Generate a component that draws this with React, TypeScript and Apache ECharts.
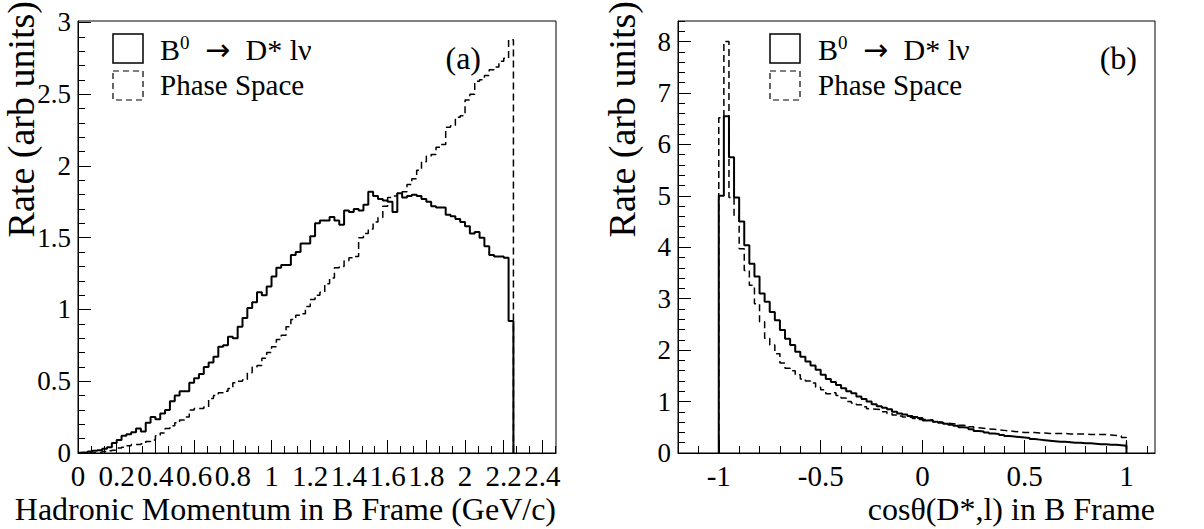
import React, { useEffect, useRef } from "react";
import * as echarts from "echarts";

const FONT = "Liberation Serif, serif";

// ---- Panel (a): hadronic momentum, bins of 0.025 GeV/c starting at 0 ----
const momStart = 0;
const momBinWidth = 0.025;
const momSignal = [
  0.003, 0.005, 0.01, 0.015, 0.02, 0.03, 0.04, 0.07, 0.09, 0.12,
  0.13, 0.145, 0.17, 0.15, 0.21, 0.25, 0.235, 0.275, 0.3, 0.36,
  0.4, 0.43, 0.43, 0.49, 0.52, 0.55, 0.6, 0.63, 0.67, 0.74,
  0.75, 0.81, 0.8, 0.88, 0.94, 1.01, 1.05, 1.12, 1.1, 1.16,
  1.23, 1.29, 1.31, 1.31, 1.38, 1.4, 1.46, 1.46, 1.51, 1.6,
  1.62, 1.62, 1.645, 1.62, 1.59, 1.69, 1.68, 1.7, 1.69, 1.73,
  1.82, 1.79, 1.77, 1.76, 1.75, 1.68, 1.81, 1.78, 1.79, 1.8,
  1.79, 1.77, 1.75, 1.72, 1.71, 1.71, 1.66, 1.65, 1.63, 1.61,
  1.58, 1.53, 1.54, 1.5, 1.44, 1.38, 1.37, 1.37, 1.36, 0.92,
];
const momPhase = [
  0, 0, 0, 0.003, 0.005, 0.01, 0.015, 0.02, 0.035, 0.04,
  0.05, 0.06, 0.06, 0.065, 0.08, 0.09, 0.12, 0.14, 0.17, 0.19,
  0.21, 0.23, 0.25, 0.3, 0.31, 0.31, 0.32, 0.38, 0.4, 0.42,
  0.43, 0.45, 0.49, 0.5, 0.51, 0.56, 0.6, 0.61, 0.66, 0.7,
  0.74, 0.79, 0.82, 0.88, 0.93, 0.96, 0.97, 1.02, 1.07, 1.1,
  1.12, 1.18, 1.22, 1.29, 1.3, 1.34, 1.36, 1.37, 1.5, 1.53,
  1.56, 1.61, 1.64, 1.72, 1.78, 1.79, 1.81, 1.82, 1.87, 1.91,
  1.97, 2.03, 2.07, 2.08, 2.13, 2.15, 2.27, 2.28, 2.34, 2.35,
  2.46, 2.5, 2.59, 2.6, 2.63, 2.67, 2.69, 2.73, 2.75, 2.88,
];
const momMajorTicks = [0, 0.2, 0.4, 0.6, 0.8, 1, 1.2, 1.4, 1.6, 1.8, 2, 2.2, 2.4];
const momMinorTicks = Array.from({ length: 38 }, (_, i) => i / 15);
const rateAMajorTicks = [0, 0.5, 1, 1.5, 2, 2.5, 3];
const rateAMinorTicks = Array.from({ length: 31 }, (_, i) => i / 10);

// ---- Panel (b): cos theta(D*,l), bins of 0.025 starting at -1 ----
const cosStart = -1;
const cosBinWidth = 0.025;
const cosSignal = [
  5.0, 6.55, 5.75, 4.97, 4.5, 4.04, 3.68, 3.43, 3.1, 2.94,
  2.74, 2.58, 2.39, 2.22, 2.1, 1.97, 1.87, 1.78, 1.7, 1.62,
  1.52, 1.44, 1.38, 1.32, 1.26, 1.2, 1.16, 1.1, 1.05, 1.0,
  0.95, 0.91, 0.88, 0.85, 0.8, 0.77, 0.75, 0.72, 0.7, 0.68,
  0.63, 0.64, 0.61, 0.59, 0.57, 0.55, 0.53, 0.5, 0.49, 0.46,
  0.43, 0.42, 0.4, 0.38, 0.37, 0.35, 0.33, 0.32, 0.31, 0.3,
  0.29, 0.27, 0.26, 0.25, 0.24, 0.23, 0.22, 0.22, 0.21, 0.2,
  0.2, 0.19, 0.19, 0.18, 0.17, 0.17, 0.16, 0.16, 0.15, 0.14,
];
const cosPhase = [
  6.52, 8.0, 4.97, 4.61, 3.97, 3.55, 3.26, 2.9, 2.55, 2.23,
  2.1, 1.93, 1.75, 1.65, 1.6, 1.52, 1.44, 1.4, 1.36, 1.28,
  1.23, 1.15, 1.17, 1.12, 1.07, 1.0, 0.97, 0.94, 0.9, 0.86,
  0.85, 0.84, 0.8, 0.77, 0.74, 0.72, 0.7, 0.69, 0.67, 0.65,
  0.65, 0.63, 0.61, 0.6, 0.58, 0.57, 0.56, 0.54, 0.53, 0.51,
  0.49, 0.48, 0.47, 0.46, 0.45, 0.44, 0.43, 0.42, 0.41, 0.4,
  0.4, 0.4, 0.39, 0.39, 0.38, 0.38, 0.38, 0.38, 0.37, 0.37,
  0.37, 0.37, 0.36, 0.36, 0.36, 0.36, 0.35, 0.34, 0.33, 0.3,
];
const cosMajorTicks = [-1, -0.5, 0, 0.5, 1];
const cosMinorTicks = Array.from({ length: 24 }, (_, i) => (i - 12) / 10);
const rateBMajorTicks = [0, 1, 2, 3, 4, 5, 6, 7, 8];
const rateBMinorTicks = Array.from({ length: 43 }, (_, i) => i / 5);

const legendSignal = "{n|B}{s|0}{a|→}{n|D* lν}";
const legendPhase = "Phase Space";

function histPoints(start: number, width: number, values: number[]) {
  const pts: number[][] = [[start, 0]];
  values.forEach((v, i) => pts.push([start + i * width, v]));
  pts.push([start + values.length * width, 0]);
  return pts;
}

const fmt = (v: number) => String(parseFloat(Number(v).toFixed(2)));

function axesFor(
  grid: number,
  min: number,
  max: number,
  major: number[],
  minor: number[],
  dim: "x" | "y",
  fontSize: number
) {
  const common = {
    type: "value",
    gridIndex: grid,
    min,
    max,
    splitLine: { show: false },
    position: dim === "x" ? "bottom" : "left",
  };
  return [
    {
      ...common,
      axisLine: { show: true, onZero: false, lineStyle: { color: "#000", width: 1 } },
      axisTick: {
        show: true,
        inside: true,
        length: 13,
        customValues: major,
        lineStyle: { color: "#000", width: 1 },
      },
      axisLabel: {
        show: true,
        customValues: major,
        formatter: fmt,
        color: "#000",
        fontFamily: FONT,
        fontSize,
        lineHeight: fontSize,
        margin: dim === "x" ? 8 : 7,
      },
    },
    {
      ...common,
      axisLine: { show: false, onZero: false },
      axisTick: {
        show: true,
        inside: true,
        length: 7,
        customValues: minor,
        lineStyle: { color: "#000", width: 1 },
      },
      axisLabel: { show: false },
    },
  ];
}

function histSeries(data: number[][], xi: number, yi: number, dashed: boolean) {
  return {
    type: "line",
    xAxisIndex: xi,
    yAxisIndex: yi,
    data,
    step: "end",
    showSymbol: false,
    symbol: "none",
    silent: true,
    clip: true,
    lineStyle: dashed
      ? { color: "#000", width: 1.5, type: [7, 4] }
      : { color: "#000", width: 2, type: "solid" },
  };
}

function legendGraphics(boxX: number, textX: number, label: string, labelX: number) {
  const textStyle = { fontFamily: FONT, fontSize: 29, fill: "#000" };
  return [
    {
      type: "rect",
      shape: { x: boxX, y: 34, width: 30, height: 29 },
      style: { fill: "none", stroke: "#000", lineWidth: 1.5 },
    },
    {
      type: "rect",
      shape: { x: boxX, y: 71, width: 30, height: 29 },
      style: { fill: "none", stroke: "#000", lineWidth: 1.2, lineDash: [6, 4] },
    },
    {
      type: "text",
      x: textX,
      y: 49,
      style: {
        text: legendSignal,
        verticalAlign: "middle",
        align: "left",
        rich: {
          n: { fontFamily: FONT, fontSize: 30, fill: "#000" },
          s: { fontFamily: FONT, fontSize: 19, fill: "#000", verticalAlign: "top", padding: [0, 0, 14, 0] },
          a: { fontFamily: "DejaVu Sans, sans-serif", fontSize: 30, fill: "#000", width: 56, align: "center" },
        },
      },
    },
    {
      type: "text",
      x: textX,
      y: 85,
      style: { ...textStyle, text: legendPhase, verticalAlign: "middle", align: "left" },
    },
    {
      type: "text",
      x: labelX,
      y: 58,
      style: { ...textStyle, fontSize: 32, text: label, verticalAlign: "middle", align: "right" },
    },
  ];
}

export default function App() {
  const ref = useRef<HTMLDivElement>(null);
  useEffect(() => {
    if (!ref.current) return;
    const chart = echarts.init(ref.current, undefined, { renderer: "svg" });
    const xA = axesFor(0, 0, 2.47, momMajorTicks, momMinorTicks, "x", 29);
    const xB = axesFor(1, -1.2, 1.14, cosMajorTicks, cosMinorTicks, "x", 29);
    const yA = axesFor(0, 0, 3.01, rateAMajorTicks, rateAMinorTicks, "y", 27);
    const yB = axesFor(1, 0, 8.4, rateBMajorTicks, rateBMinorTicks, "y", 27);
    const titleStyle = { fontFamily: FONT, fontSize: 32, fill: "#000" };
    chart.setOption({
      animation: false,
      backgroundColor: "#fff",
      grid: [
        { left: 78, top: 21, width: 478, height: 432, show: true, borderColor: "#000", borderWidth: 1, backgroundColor: "transparent" },
        { left: 678, top: 21, width: 477, height: 432, show: true, borderColor: "#000", borderWidth: 1, backgroundColor: "transparent" },
      ],
      xAxis: [...xA, ...xB],
      yAxis: [...yA, ...yB],
      series: [
        histSeries(histPoints(momStart, momBinWidth, momPhase), 0, 0, true),
        histSeries(histPoints(momStart, momBinWidth, momSignal), 0, 0, false),
        histSeries(histPoints(cosStart, cosBinWidth, cosPhase), 2, 2, true),
        histSeries(histPoints(cosStart, cosBinWidth, cosSignal), 2, 2, false),
      ],
      graphic: [
        ...legendGraphics(113, 160, "(a)", 481),
        ...legendGraphics(770, 818, "(b)", 1137),
        {
          type: "text",
          x: 556,
          y: 509,
          style: { ...titleStyle, text: "Hadronic Momentum in B Frame (GeV/c)", align: "right", verticalAlign: "middle" },
        },
        {
          type: "text",
          x: 1155,
          y: 509,
          style: { ...titleStyle, text: "cosθ(D*,l) in B Frame", align: "right", verticalAlign: "middle" },
        },
        {
          type: "text",
          x: 21,
          y: 1,
          rotation: Math.PI / 2,
          style: { ...titleStyle, fontSize: 38, text: "Rate (arb units)", align: "right", verticalAlign: "middle" },
        },
        {
          type: "text",
          x: 622,
          y: 1,
          rotation: Math.PI / 2,
          style: { ...titleStyle, fontSize: 38, text: "Rate (arb units)", align: "right", verticalAlign: "middle" },
        },
      ],
    });
    return () => chart.dispose();
  }, []);
  return (
    <div
      ref={ref}
      style={{ position: "absolute", left: 0, top: 0, width: 1204, height: 529, background: "#fff" }}
    />
  );
}
